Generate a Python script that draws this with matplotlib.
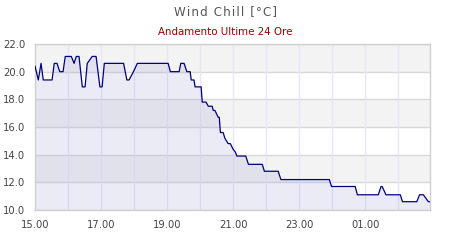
import matplotlib
matplotlib.use("Agg")
import matplotlib.pyplot as plt
import numpy as np

# readings: clock time and wind chill (°C), last 12 hours shown
times = ["15:00", "15:06", "15:11", "15:15", "15:31", "15:35", "15:40", "15:45",
         "15:51", "15:55", "16:06", "16:11", "16:15", "16:20", "16:26", "16:31",
         "16:35", "16:44", "16:51", "16:58", "17:02", "17:06", "17:41", "17:47",
         "17:51", "17:59", "18:06", "19:02", "19:06", "19:22", "19:25", "19:31",
         "19:36", "19:42", "19:44", "19:49", "19:51", "20:02", "20:04", "20:11",
         "20:15", "20:22", "20:24", "20:27", "20:33", "20:35", "20:37", "20:42",
         "20:45", "20:51", "20:55", "21:00", "21:04", "21:07", "21:23", "21:28",
         "21:53", "21:57", "22:22", "22:27", "23:55", "23:59", "00:42", "00:46",
         "01:24", "01:29", "01:31", "01:38", "02:04", "02:08", "02:34", "02:39",
         "02:46", "02:55", "02:58"]
wind_chill = [20.4, 19.4, 20.6, 19.4, 19.4, 20.6, 20.6, 20.0,
              20.0, 21.1, 21.1, 20.6, 21.1, 21.1, 18.9, 18.9,
              20.6, 21.1, 21.1, 18.9, 18.9, 20.6, 20.6, 19.4,
              19.4, 20.0, 20.6, 20.6, 20.0, 20.0, 20.6, 20.6,
              20.0, 20.0, 19.4, 19.4, 18.9, 18.9, 17.8, 17.8,
              17.5, 17.5, 17.2, 17.2, 16.7, 16.7, 15.6, 15.6,
              15.2, 14.8, 14.8, 14.4, 14.2, 13.9, 13.9, 13.3,
              13.3, 12.8, 12.8, 12.2, 12.2, 11.7, 11.7, 11.1,
              11.1, 11.7, 11.7, 11.1, 11.1, 10.6, 10.6, 11.1,
              11.1, 10.6, 10.6]
tick_labels = ["15.00", "17.00", "19.00", "21.00", "23.00", "01.00"]
y_ticks = [10, 12, 14, 16, 18, 20, 22]

start_hour = 15

def to_minutes(t):
    h, m = map(int, t.split(":"))
    if h < start_hour:
        h += 24
    return (h - start_hour) * 60 + m

x = np.array([to_minutes(t) for t in times])
y = np.array(wind_chill)

fig = plt.figure(figsize=(4.5, 2.4), dpi=100)
ax = fig.add_axes([35 / 450, 1 - 210 / 240, 395 / 450, 166 / 240])

# alternating bands
for lo in (12, 16, 20):
    ax.axhspan(lo, lo + 2, color="#f3f3f3", zorder=0, lw=0)

for yt in y_ticks:
    ax.axhline(yt, color="#d8d8d8", lw=1.0, zorder=1)
for m in range(60, 720, 60):
    ax.axvline(m, color="#e6e6fa", lw=1.0, zorder=1)

ax.fill_between(x, y, 10, color="#9c9cd4", alpha=0.2, lw=0, zorder=2)
ax.plot(x, y, color="#000080", lw=0.9, zorder=3)

ax.set_xlim(0, 718)
ax.set_ylim(10, 22)
ax.set_xticks([i * 120 for i in range(len(tick_labels))])
ax.set_xticklabels(tick_labels)
ax.set_yticks(y_ticks)
ax.set_yticklabels(["%.1f" % v for v in y_ticks])
ax.tick_params(length=0, labelsize=7.2, labelcolor="#444444", pad=7)

for s in ax.spines.values():
    s.set_color("#d0d0d0")
    s.set_linewidth(1.0)

fig.text(0.5, 1 - 12 / 240, "W i n d   C h i l l   [ ° C ]".replace("   ", "\u2002").replace(" ", "\u200a"),
         ha="center", va="center", fontsize=8.6, color="#555555")
fig.text(0.5, 1 - 32 / 240, "Andamento Ultime 24 Ore", ha="center", va="center",
         fontsize=7.4, color="#a00000")

fig.savefig("out.png", dpi=100)
